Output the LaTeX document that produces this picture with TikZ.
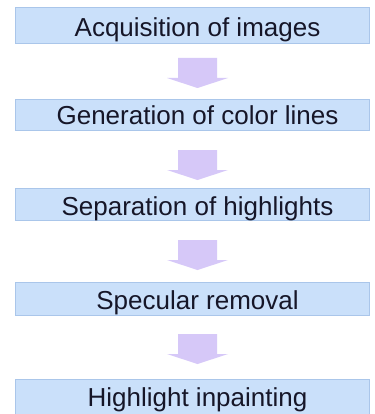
\documentclass[tikz,border=0pt]{standalone}
\usepackage{fontspec}
\setmainfont{Liberation Sans}
\definecolor{boxfill}{RGB}{202,224,250}
\definecolor{boxline}{RGB}{170,198,234}
\definecolor{arrfill}{RGB}{214,200,248}
\definecolor{txt}{RGB}{22,22,40}
\begin{document}
\begin{tikzpicture}[x=1pt,y=-1pt,
  stepbox/.style={draw=boxline,fill=boxfill,line width=0.8pt,inner sep=0pt,minimum width=354pt,anchor=north},
  steptext/.style={anchor=base,text=txt,font=\fontsize{26}{28}\selectfont,inner sep=0pt},
  blockarr/.style={fill=arrfill,draw=none}]
\useasboundingbox (0,0) rectangle (374,414);
\fill[white] (0,0) rectangle (374,414);
% boxes
\node[stepbox,minimum height=36pt] (b1) at (192,7) {};
\node[stepbox,minimum height=31pt] (b2) at (192,99) {};
\node[stepbox,minimum height=32pt] (b3) at (192,188) {};
\node[stepbox,minimum height=33pt] (b4) at (192,282) {};
\node[stepbox,minimum height=36pt] (b5) at (192,379) {};
% texts
\node[steptext] (t1) at (197.5,37) {Acquisition of images};
\node[steptext] (t2) at (197.5,125) {Generation of color lines};
\node[steptext] (t3) at (197.5,215) {Separation of highlights};
\node[steptext] (t4) at (197.5,309) {Specular removal};
\node[steptext] (t5) at (197.5,406) {Highlight inpainting};
% block arrows
\foreach \n/\y in {1/58,2/150,3/240,4/334}{
  \coordinate (a\n) at (197.5,\y);
  \fill[blockarr] ([xshift=-19.5pt]a\n) -- ([xshift=19.5pt]a\n) -- ([xshift=19.5pt,yshift=-20pt]a\n)
    -- ([xshift=30.5pt,yshift=-20pt]a\n) -- ([yshift=-30pt]a\n) -- ([xshift=-30.5pt,yshift=-20pt]a\n)
    -- ([xshift=-19.5pt,yshift=-20pt]a\n) -- cycle;
}
\end{tikzpicture}
\end{document}
